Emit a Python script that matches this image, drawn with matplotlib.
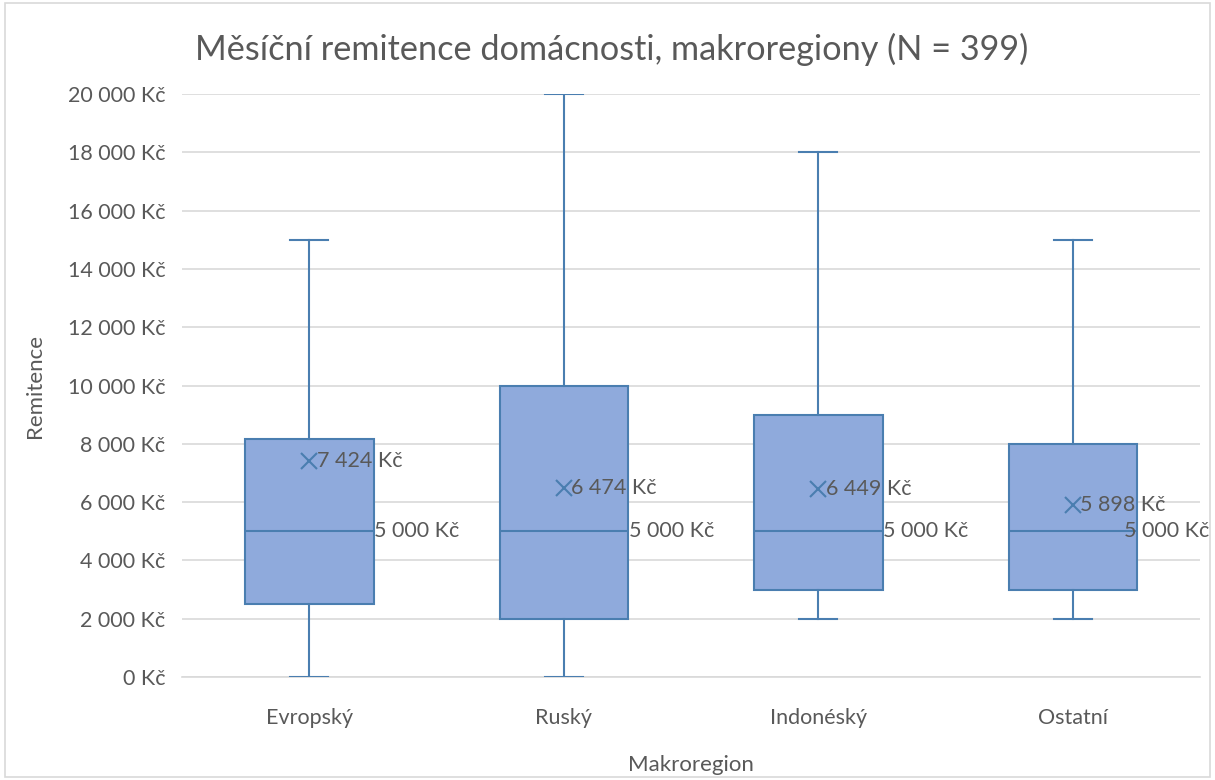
import matplotlib
matplotlib.use("Agg")
import matplotlib.pyplot as plt
from matplotlib.patches import Rectangle

categories = ["Evropský", "Ruský", "Indonéský", "Ostatní"]
whisker_low = [0, 0, 2000, 2000]
q1 = [2500, 2000, 3000, 3000]
median = [5000, 5000, 5000, 5000]
q3 = [8150, 10000, 9000, 8000]
whisker_high = [15000, 20000, 18000, 15000]
means = [7424, 6474, 6449, 5898]
yticks = list(range(0, 20001, 2000))

def fmt(v):
    s = f"{int(round(v)):,}".replace(",", " ")
    return f"{s} Kč"

plt.rcParams['font.family'] = ['Lato', 'DejaVu Sans']
fig = plt.figure(figsize=(12.15, 7.8), dpi=100)
fig.patches.append(Rectangle((0.004, 0.004), 0.992, 0.992, transform=fig.transFigure,
                             fill=False, edgecolor='#D9D9D9', linewidth=1.2))
ax = fig.add_axes([0.1498, 0.132, 0.8379, 0.7475])

data = [dict(med=m, q1=a, q3=b, whislo=lo, whishi=hi, fliers=[], label=c)
        for c, lo, a, m, b, hi in zip(categories, whisker_low, q1, median, q3, whisker_high)]
edge = '#4A7EB0'
pos = [1, 2, 3, 4]
ax.bxp(data, positions=pos, widths=0.505, patch_artist=True, showfliers=False,
       boxprops=dict(facecolor='#8FAADC', edgecolor=edge, linewidth=1.5),
       medianprops=dict(color=edge, linewidth=1.5),
       whiskerprops=dict(color=edge, linewidth=1.5),
       capprops=dict(color=edge, linewidth=1.5), capwidths=0.15, zorder=3)

for i, (p, m, md) in enumerate(zip(pos, means, median)):
    ax.plot(p, m, marker='x', color=edge, markersize=12, mew=1.5, zorder=4, linestyle='none')
    ax.text(p + 0.03, m, fmt(m), fontsize=15.5, color='#595959', va='center', ha='left', zorder=5)
    off = 0.255 if i < len(pos) - 1 else 0.2
    ax.text(p + off, md, fmt(md), fontsize=15.5, color='#595959', va='center', ha='left',
            zorder=5, clip_on=False)

ax.set_xlim(0.5, 4.5)
ax.set_ylim(0, 20000)
ax.set_yticks(yticks)
ax.set_yticklabels([fmt(v) for v in yticks])
ax.set_xticks(pos)
ax.set_xticklabels(categories)
ax.tick_params(axis='both', length=0, labelsize=15.5, labelcolor='#595959', pad=12)
ax.tick_params(axis='x', pad=22)
ax.grid(axis='y', color='#D9D9D9', linewidth=1.2, zorder=0)
ax.set_axisbelow(True)
for s in ['top', 'right', 'left']:
    ax.spines[s].set_visible(False)
ax.spines['bottom'].set_color('#D9D9D9')
ax.spines['bottom'].set_linewidth(1.2)
ax.set_xlabel("Makroregion", fontsize=16, color='#595959', labelpad=20)
ax.set_ylabel("Remitence", fontsize=16, color='#595959', labelpad=16)
fig.text(0.503, 0.937, "Měsíční remitence domácnosti, makroregiony (N = 399)",
         fontsize=24.7, color='#595959', ha='center', va='center')
fig.savefig("out.png", dpi=100)
